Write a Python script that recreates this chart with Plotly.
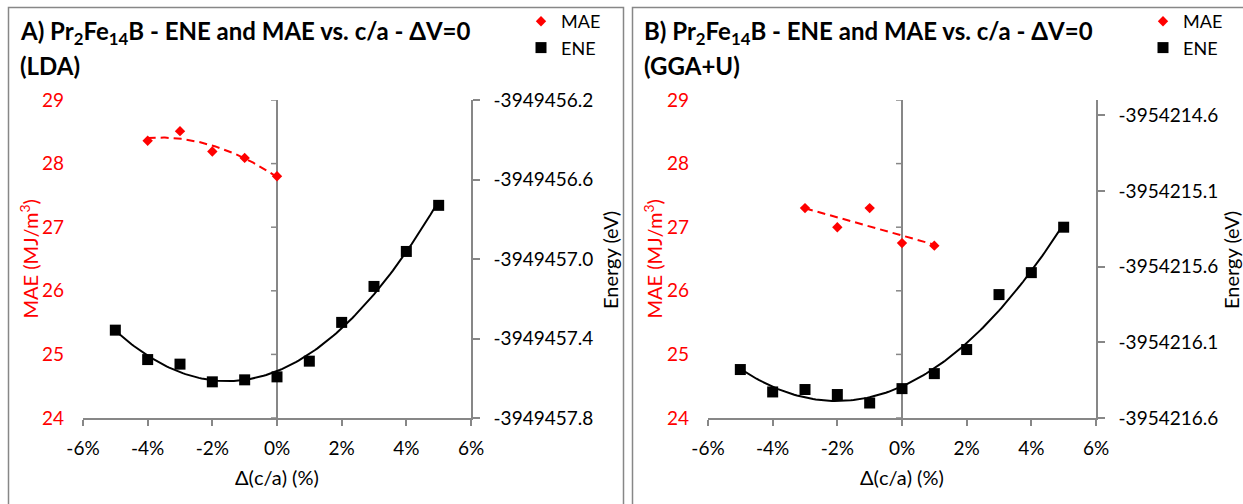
import numpy as np
import plotly.graph_objects as go

W, H = 1243, 504

# ---------------- data ----------------
dca = [-5, -4, -3, -2, -1, 0, 1, 2, 3, 4, 5]
ene_lda = [-3949457.358, -3949457.506, -3949457.529, -3949457.618, -3949457.608,
           -3949457.593, -3949457.514, -3949457.319, -3949457.138, -3949456.962,
           -3949456.730]
mae_lda_x = [-4, -3, -2, -1, 0]
mae_lda = [28.36, 28.51, 28.19, 28.09, 27.80]

ene_ggau = [-3954216.280, -3954216.428, -3954216.412, -3954216.445, -3954216.501,
            -3954216.406, -3954216.307, -3954216.148, -3954215.785, -3954215.640,
            -3954215.340]
mae_ggau_x = [-3, -2, -1, 0, 1]
mae_ggau = [27.30, 27.00, 27.30, 26.75, 26.71]

x_ticks = [-6, -4, -2, 0, 2, 4, 6]
x_tick_labels = ["-6%", "-4%", "-2%", "0%", "2%", "4%", "6%"]
mae_ticks = [24, 25, 26, 27, 28, 29]
mae_range = [24, 29]
ene_lda_ticks = [-3949457.8, -3949457.4, -3949457.0, -3949456.6, -3949456.2]
ene_lda_labels = ["-3949457.8", "-3949457.4", "-3949457.0", "-3949456.6", "-3949456.2"]
ene_lda_range = [-3949457.8, -3949456.2]
ene_ggau_ticks = [-3954216.6, -3954216.1, -3954215.6, -3954215.1, -3954214.6]
ene_ggau_labels = ["-3954216.6", "-3954216.1", "-3954215.6", "-3954215.1", "-3954214.6"]
ene_ggau_range = [-3954216.6, -3954214.5]

titles = [("A) Pr<sub>2</sub>Fe<sub>14</sub>B - ENE and MAE vs. c/a - ΔV=0", "(LDA)"),
          ("B) Pr<sub>2</sub>Fe<sub>14</sub>B - ENE and MAE vs. c/a - ΔV=0", "(GGA+U)")]

# ---------------- style ----------------
FONT = "Lato, 'Open Sans', sans-serif"
GRAY = "#878787"
RED = "#ff0000"
LW = 1.5


def px(x):
    return x / W


def py(y):
    return 1 - y / H


def trend(x, y, deg):
    c = np.polyfit(x, y, deg)
    xs = np.linspace(min(x), max(x), 121)
    return xs, np.polyval(c, xs)


fig = go.Figure()

panels = [
    dict(xa="x", ya="y", ya2="y2", legend="legend", mx=mae_lda_x, my=mae_lda, mdeg=2,
         ene=ene_lda),
    dict(xa="x2", ya="y3", ya2="y4", legend="legend2", mx=mae_ggau_x, my=mae_ggau, mdeg=1,
         ene=ene_ggau),
]

for p in panels:
    # ENE trend + markers (right axis)
    tx, ty = trend(dca, p["ene"], 2)
    fig.add_trace(go.Scatter(x=tx, y=ty, mode="lines", xaxis=p["xa"], yaxis=p["ya2"],
                             line=dict(color="black", width=2), showlegend=False,
                             hoverinfo="skip"))
    fig.add_trace(go.Scatter(x=dca, y=p["ene"], mode="markers", name="ENE",
                             xaxis=p["xa"], yaxis=p["ya2"], legend=p["legend"],
                             legendrank=2,
                             marker=dict(symbol="square", size=11, color="black")))
    # MAE trend + markers (left axis)
    tx, ty = trend(p["mx"], p["my"], p["mdeg"])
    fig.add_trace(go.Scatter(x=tx, y=ty, mode="lines", xaxis=p["xa"], yaxis=p["ya"],
                             line=dict(color=RED, width=2, dash="8px,5px"),
                             showlegend=False, hoverinfo="skip"))
    fig.add_trace(go.Scatter(x=p["mx"], y=p["my"], mode="markers", name="MAE",
                             xaxis=p["xa"], yaxis=p["ya"], legend=p["legend"],
                             legendrank=1,
                             marker=dict(symbol="diamond", size=8, color=RED)))

ydom = [py(418), py(100)]
xdoms = [[px(83), px(471)], [px(708), px(1096)]]

xcommon = dict(range=[-6, 6], tickvals=x_ticks, ticktext=x_tick_labels,
               ticks="outside", ticklen=6, tickcolor=GRAY, tickwidth=LW,
               showline=True, linecolor=GRAY, linewidth=LW,
               zeroline=True, zerolinecolor=GRAY, zerolinewidth=LW,
               showgrid=False, tickfont=dict(family=FONT, size=19, color="black"),
               ticklabelstandoff=6, fixedrange=True, automargin=False)
ycommon = dict(range=mae_range, tickvals=mae_ticks, ticks="", showline=False,
               showgrid=False, zeroline=False,
               tickfont=dict(family=FONT, size=19, color=RED),
               ticklabelstandoff=18, fixedrange=True, automargin=False)
y2common = dict(side="right", ticks="outside", ticklen=7, tickcolor=GRAY, tickwidth=LW,
                showline=True, linecolor=GRAY, linewidth=LW, showgrid=False,
                zeroline=False, tickfont=dict(family=FONT, size=19, color="black"),
                ticklabelstandoff=10, fixedrange=True, automargin=False)

fig.update_layout(
    xaxis=dict(domain=xdoms[0], anchor="y", **xcommon),
    xaxis2=dict(domain=xdoms[1], anchor="y3", **xcommon),
    yaxis=dict(domain=ydom, anchor="x", **ycommon),
    yaxis3=dict(domain=ydom, anchor="x2", **ycommon),
    yaxis2=dict(overlaying="y", anchor="x", range=ene_lda_range, tickvals=ene_lda_ticks,
                ticktext=ene_lda_labels, **y2common),
    yaxis4=dict(overlaying="y3", anchor="x2", range=ene_ggau_range,
                tickvals=ene_ggau_ticks, ticktext=ene_ggau_labels, **y2common),
)

# small ticks on the vertical line at x = 0 (left value axis crossing)
shapes = []
for xa, ya in (("x", "y"), ("x2", "y3")):
    for t in mae_ticks:
        shapes.append(dict(type="line", xref=xa, yref=ya, xsizemode="pixel", xanchor=0,
                           x0=-6, x1=0, y0=t, y1=t, line=dict(color=GRAY, width=LW)))

# panel borders
for left, right in ((8.5, 623.5), (632.5, 1250)):
    shapes.append(dict(type="rect", xref="paper", yref="paper", x0=px(left), x1=px(right),
                       y0=py(520), y1=py(7.5), line=dict(color=GRAY, width=1.5),
                       fillcolor="rgba(0,0,0,0)", layer="below"))

annotations = []
offsets = [0, 624]
energy_title_x = [610, 1231]
for (t1, t2), off, xd, ex in zip(titles, offsets, xdoms, energy_title_x):
    annotations.append(dict(text=f"<b>{t1}</b>", x=px(18 + off), y=py(33), xref="paper",
                            yref="paper", xanchor="left", yanchor="middle",
                            showarrow=False, font=dict(family=FONT, size=24, color="black")))
    annotations.append(dict(text=f"<b>{t2}</b>", x=px(18 + off), y=py(66), xref="paper",
                            yref="paper", xanchor="left", yanchor="middle",
                            showarrow=False, font=dict(family=FONT, size=24, color="black")))
    # axis titles
    annotations.append(dict(text="MAE (MJ/m<sup>3</sup>)", x=px(28.5 + off), y=py(259),
                            xref="paper", yref="paper", textangle=-90, showarrow=False,
                            xanchor="center", yanchor="middle",
                            font=dict(family=FONT, size=20, color=RED)))
    annotations.append(dict(text="Energy (eV)", x=px(ex), y=py(260),
                            xref="paper", yref="paper", textangle=-90, showarrow=False,
                            xanchor="center", yanchor="middle",
                            font=dict(family=FONT, size=20, color="black")))
    annotations.append(dict(text="Δ(c/a) (%)", x=(xd[0] + xd[1]) / 2, y=py(477),
                            xref="paper", yref="paper", showarrow=False,
                            xanchor="center", yanchor="middle",
                            font=dict(family=FONT, size=20, color="black")))

legend_common = dict(xanchor="left", yanchor="top", bgcolor="rgba(0,0,0,0)",
                     font=dict(family=FONT, size=18, color="black"), borderwidth=0,
                     tracegroupgap=0, itemclick=False, itemdoubleclick=False)

fig.update_layout(
    width=W, height=H,
    margin=dict(l=0, r=0, t=0, b=0, autoexpand=False),
    paper_bgcolor="white", plot_bgcolor="white",
    font=dict(family=FONT, size=18),
    shapes=shapes,
    annotations=annotations,
    legend=dict(x=px(521), y=py(3), **legend_common),
    legend2=dict(x=px(1143), y=py(3), **legend_common),
    hovermode=False,
)

fig.write_html("out.html", config={"displayModeBar": False})
